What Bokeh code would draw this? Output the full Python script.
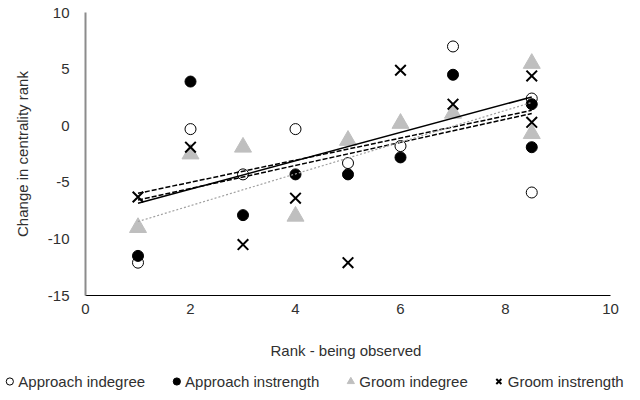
from bokeh.plotting import figure
from bokeh.models import Range1d, FixedTicker, Legend, LegendItem
from bokeh.layouts import column
from bokeh.embed import file_html
from bokeh.resources import INLINE
import numpy as np

# ---- data ----
rank_x = [1, 2, 3, 4, 5, 6, 7, 8.5, 8.5]
approach_indegree = [-12.1, -0.3, -4.3, -0.3, -3.3, -1.8, 7.0, 2.4, -5.9]
approach_instrength = [-11.5, 3.9, -7.9, -4.3, -4.3, -2.8, 4.5, 1.9, -1.9]
groom_indegree = [-9.0, -2.5, -1.9, -8.0, -1.3, 0.2, 1.1, 5.5, -0.7]
groom_instrength = [-6.3, -1.9, -10.5, -6.4, -12.1, 4.9, 1.9, 4.4, 0.3]

x_ticks = [0, 2, 4, 6, 8, 10]
y_ticks = [-15, -10, -5, 0, 5, 10]
y_tick_labels = ["-15", "-10", "-5", "0", "5", "10"]
series_labels = ["Approach indegree", "Approach instrength", "Groom indegree", "Groom instrength"]

FONT = "Liberation Sans"
TXT = "#303030"

# marker styles per series
STY = [
    dict(marker="circle", size=11, fill_color="white", line_color="black", line_width=1),
    dict(marker="circle", size=11, fill_color="black", line_color="black", line_width=1),
    dict(marker="triangle", size=17, fill_color="#BFBFBF", line_color="#BFBFBF", line_width=1),
    dict(marker="x", size=15, line_color="black", line_width=2),
]

p = figure(width=624, height=370, output_backend="svg", toolbar_location=None,
           x_range=Range1d(0, 10), y_range=Range1d(-15, 10),
           min_border_left=85, min_border_right=14, min_border_top=12, min_border_bottom=75)
p.outline_line_color = None
p.grid.visible = False
p.frame_align = False

# axes
p.xaxis.ticker = FixedTicker(ticks=x_ticks)
p.yaxis.ticker = FixedTicker(ticks=y_ticks)
p.yaxis.major_label_overrides = dict(zip(y_ticks, y_tick_labels))
for ax in (p.xaxis, p.yaxis):
    ax.major_tick_line_color = None
    ax.minor_tick_line_color = None
    ax.major_label_text_font = FONT
    ax.major_label_text_font_size = "15px"
    ax.major_label_text_color = TXT
    ax.axis_label_text_font = FONT
    ax.axis_label_text_font_size = "15px"
    ax.axis_label_text_font_style = "normal"
    ax.axis_label_text_color = TXT
p.xaxis.axis_line_color = "black"
p.xaxis.axis_line_width = 1
p.xaxis.major_label_standoff = 2
p.xaxis.axis_label = "Rank  - being observed"
p.xaxis.axis_label_standoff = 25
p.yaxis.axis_line_color = "#8C8C8C"
p.yaxis.axis_line_width = 2
p.yaxis.major_label_standoff = 10
p.yaxis.axis_label = "Change in centrality rank"
p.yaxis.axis_label_standoff = 14

series = [approach_indegree, approach_instrength, groom_indegree, groom_instrength]
for ys, st in zip(series, STY):
    p.scatter(rank_x, ys, **st)

# linear trendlines (least squares from each series)
def trend(ys, **kw):
    xs = np.array(rank_x, dtype=float)
    m, b = np.polyfit(xs, np.array(ys, dtype=float), 1)
    x0, x1 = xs.min(), xs.max()
    p.line([x0, x1], [m * x0 + b, m * x1 + b], **kw)

trend(approach_indegree, line_color="black", line_width=1.5, line_dash="5 2")
trend(approach_instrength, line_color="black", line_width=1.5, line_dash="5 2")
trend(groom_indegree, line_color="black", line_width=1.5)
trend(groom_instrength, line_color="#A0A0A0", line_width=1.2, line_dash="2 2")

# legend strip underneath (its renderers hold the same series, kept out of view)
lf = figure(width=624, height=22, output_backend="svg", toolbar_location=None,
            x_axis_type=None, y_axis_type=None,
            x_range=Range1d(100, 101), y_range=Range1d(100, 101),
            min_border_left=0, min_border_right=0, min_border_top=0, min_border_bottom=0)
lf.outline_line_color = None
lf.grid.visible = False
lf.frame_align = False
items = []
for lab, ys, st in zip(series_labels, series, STY):
    r = lf.scatter(rank_x, ys, **st)
    items.append(LegendItem(label=lab, renderers=[r]))
legend = Legend(items=items, orientation="horizontal", location="center",
                label_text_font=FONT, label_text_font_size="15px", label_text_color=TXT,
                glyph_width=18, glyph_height=18, label_standoff=0, spacing=22,
                padding=0, margin=0, border_line_color=None, background_fill_alpha=0)
lf.add_layout(legend)

layout = column(p, lf, spacing=0)
open("out.html", "w").write(file_html(layout, INLINE))
